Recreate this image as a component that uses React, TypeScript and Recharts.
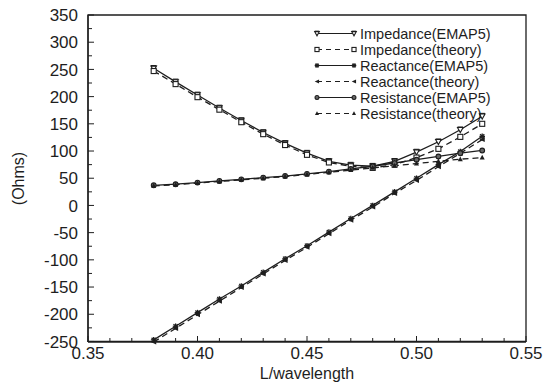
import React from 'react'
import { LineChart, Line, XAxis, YAxis, ReferenceArea, Legend } from 'recharts'

// L/wavelength sample points
const lengths = [0.38, 0.39, 0.40, 0.41, 0.42, 0.43, 0.44, 0.45, 0.46, 0.47, 0.48, 0.49, 0.50, 0.51, 0.52, 0.53]

const impedanceEmap = [252, 227, 203, 179, 156, 134, 114, 96, 81, 74, 72, 81, 98, 117, 139, 164]
const impedanceTheory = [247, 223, 199, 176, 153, 131, 111, 93, 79, 72, 69, 75, 88, 104, 126, 150]
const reactanceEmap = [-247, -222, -197, -172, -148, -123, -98, -74, -49, -24, 0, 25, 50, 75, 99, 127]
const reactanceTheory = [-251, -226, -201, -176, -151, -126, -101, -77, -52, -27, -3, 22, 46, 71, 96, 121]
const resistanceEmap = [37, 39, 42, 45, 48, 51, 54, 58, 62, 67, 72, 78, 84, 90, 96, 101]
const resistanceTheory = [36, 38, 41, 44, 47, 50, 53, 57, 61, 65, 69, 73, 77, 81, 85, 88]

const xTicks = [0.35, 0.36, 0.37, 0.38, 0.39, 0.40, 0.41, 0.42, 0.43, 0.44, 0.45, 0.46, 0.47, 0.48, 0.49, 0.50, 0.51, 0.52, 0.53, 0.54, 0.55]
const xLabels = [0.35, 0.40, 0.45, 0.50, 0.55]
const yTicks = [-250, -225, -200, -175, -150, -125, -100, -75, -50, -25, 0, 25, 50, 75, 100, 125, 150, 175, 200, 225, 250, 275, 300, 325, 350]
const yLabels = [-250, -200, -150, -100, -50, 0, 50, 100, 150, 200, 250, 300, 350]

const data = lengths.map((L, i) => ({
  L,
  impE: impedanceEmap[i],
  impT: impedanceTheory[i],
  reaE: reactanceEmap[i],
  reaT: reactanceTheory[i],
  resE: resistanceEmap[i],
  resT: resistanceTheory[i],
}))

const INK = '#1e1e1e'
const FONT = '"Liberation Sans", Arial, Helvetica, sans-serif'

type Shape = 'down' | 'square' | 'star' | 'left' | 'circle' | 'up'

const SERIES: { key: string; name: string; shape: Shape; dashed: boolean }[] = [
  { key: 'impE', name: 'Impedance(EMAP5)', shape: 'down', dashed: false },
  { key: 'impT', name: 'Impedance(theory)', shape: 'square', dashed: true },
  { key: 'reaE', name: 'Reactance(EMAP5)', shape: 'star', dashed: false },
  { key: 'reaT', name: 'Reactance(theory)', shape: 'left', dashed: true },
  { key: 'resE', name: 'Resistance(EMAP5)', shape: 'circle', dashed: false },
  { key: 'resT', name: 'Resistance(theory)', shape: 'up', dashed: true },
]

function Marker({ shape, cx, cy, s = 2.8 }: { shape: Shape; cx: number; cy: number; s?: number }) {
  if (cx == null || cy == null) return null
  switch (shape) {
    case 'down':
      return (
        <g>
          <polygon points={`${cx - s},${cy - s * 0.8} ${cx + s},${cy - s * 0.8} ${cx},${cy + s}`} fill="#fff" stroke={INK} strokeWidth={1.1} />
          <line x1={cx - s} x2={cx + s} y1={cy - s} y2={cy - s} stroke={INK} strokeWidth={1.1} />
        </g>
      )
    case 'square':
      return <rect x={cx - s * 0.9} y={cy - s * 0.9} width={s * 1.8} height={s * 1.8} fill="#fff" stroke={INK} strokeWidth={1.1} />
    case 'star':
      return (
        <g stroke={INK} strokeWidth={1.3}>
          <line x1={cx - s} x2={cx + s} y1={cy} y2={cy} />
          <line x1={cx} x2={cx} y1={cy - s} y2={cy + s} />
          <line x1={cx - s * 0.75} x2={cx + s * 0.75} y1={cy - s * 0.75} y2={cy + s * 0.75} />
          <line x1={cx - s * 0.75} x2={cx + s * 0.75} y1={cy + s * 0.75} y2={cy - s * 0.75} />
        </g>
      )
    case 'left':
      return <polygon points={`${cx - s},${cy} ${cx + s * 0.9},${cy - s * 0.9} ${cx + s * 0.9},${cy + s * 0.9}`} fill={INK} />
    case 'circle':
      return <circle cx={cx} cy={cy} r={s * 0.85} fill="#666" stroke={INK} strokeWidth={1.1} />
    case 'up':
      return <polygon points={`${cx},${cy - s} ${cx + s * 0.9},${cy + s * 0.7} ${cx - s * 0.9},${cy + s * 0.7}`} fill={INK} />
  }
  return null
}

const isMajor = (v: number, list: number[]) => list.some(l => Math.abs(l - v) < 1e-6)

const X_MARGIN = 4
const XTick = ({ x, y, payload }: any) => {
  const major = isMajor(payload.value, xLabels)
  const axisY = y - X_MARGIN
  return (
    <g>
      <line x1={x} x2={x} y1={axisY} y2={axisY - (major ? 6 : 4)} stroke={INK} strokeWidth={1} />
      {major && (
        <text x={x} y={axisY + 17} textAnchor="middle" fontSize={17} fontFamily={FONT} fill={INK}>
          {payload.value.toFixed(2)}
        </text>
      )}
    </g>
  )
}

const Y_MARGIN = 4
const YTick = ({ x, y, payload }: any) => {
  const major = isMajor(payload.value, yLabels)
  const axisX = x + Y_MARGIN
  return (
    <g>
      <line x1={axisX} x2={axisX + (major ? 6 : 4)} y1={y} y2={y} stroke={INK} strokeWidth={1} />
      {major && (
        <text x={axisX - 10} y={y} dy="0.36em" textAnchor="end" fontSize={17} fontFamily={FONT} fill={INK}>
          {payload.value}
        </text>
      )}
    </g>
  )
}

const YLabel = ({ viewBox }: any) => {
  const cx = viewBox.x + 18
  const cy = viewBox.y + viewBox.height / 2
  return (
    <text x={cx} y={cy} transform={`rotate(-90 ${cx} ${cy})`} textAnchor="middle" dominantBaseline="central" fontSize={16} fontFamily={FONT} fill={INK}>
      (Ohms)
    </text>
  )
}

const LegendBox = () => (
  <svg width={200} height={100}>
    {SERIES.map((s, i) => {
      const cy = 9.5 + i * 16
      return (
        <g key={s.key}>
          <line x1={7} x2={44} y1={cy} y2={cy} stroke={INK} strokeWidth={1.2} strokeDasharray={s.dashed ? '5 4' : undefined} />
          <Marker shape={s.shape} cx={7} cy={cy} s={2.3} />
          <Marker shape={s.shape} cx={44} cy={cy} s={2.3} />
          <text x={50} y={cy + 5} fontSize={14.5} fontFamily={FONT} fill={INK}>{s.name}</text>
        </g>
      )
    })}
  </svg>
)

export default function App() {
  return (
    <div style={{ position: 'absolute', left: 0, top: 0, background: '#fff' }}>
      <LineChart width={559} height={383} data={data} margin={{ top: 15, right: 33, bottom: 0, left: 0 }}>
        <XAxis
          dataKey="L"
          type="number"
          domain={[0.35, 0.55]}
          ticks={xTicks}
          interval={0}
          tick={<XTick />}
          tickSize={0}
          tickMargin={X_MARGIN}
          tickLine={false}
          axisLine={{ stroke: INK, strokeWidth: 1.3 }}
          height={41}
          label={{ value: 'L/wavelength', position: 'insideBottom', offset: 4, fontSize: 16, fontFamily: FONT, fill: INK }}
        />
        <YAxis
          type="number"
          domain={[-250, 350]}
          ticks={yTicks}
          interval={0}
          tick={<YTick />}
          tickSize={0}
          tickMargin={Y_MARGIN}
          tickLine={false}
          axisLine={{ stroke: INK, strokeWidth: 1.3 }}
          width={88}
          label={{ content: <YLabel /> }}
        />
        <ReferenceArea x1={0.35} x2={0.55} y1={-250} y2={350} fill="none" stroke={INK} strokeWidth={1.3} ifOverflow="visible" />
        <Legend
          layout="horizontal"
          verticalAlign="middle"
          content={<LegendBox />}
          wrapperStyle={{ top: 24, left: 310, width: 200, height: 100 }}
        />
        {SERIES.map(s => (
          <Line
            key={s.key}
            dataKey={s.key}
            name={s.name}
            stroke={INK}
            strokeWidth={1.3}
            strokeDasharray={s.dashed ? '6 4' : undefined}
            dot={(p: any) => <Marker key={`${s.key}-${p.index}`} shape={s.shape} cx={p.cx} cy={p.cy} />}
            activeDot={false}
            isAnimationActive={false}
          />
        ))}
      </LineChart>
    </div>
  )
}
